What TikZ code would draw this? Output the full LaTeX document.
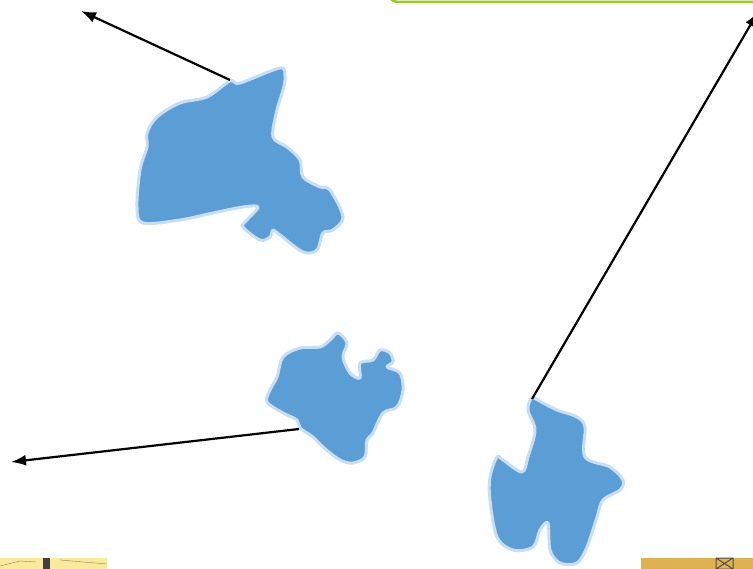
\documentclass[tikz,border=0pt]{standalone}
\usetikzlibrary{arrows.meta}
\definecolor{lakeblue}{RGB}{91,157,213}
\definecolor{lakerim}{RGB}{200,222,242}
\definecolor{boxgreen}{RGB}{160,200,40}
\definecolor{mapyellow}{RGB}{250,235,155}
\definecolor{mapgold}{RGB}{222,178,82}
\begin{document}
\begin{tikzpicture}[x=1pt, y=-1pt,
    lake/.style={fill=lakeblue, draw=lakerim, line width=3pt, line join=round},
    pointer/.style={line width=2.2pt, -{Latex[length=15pt, width=11pt]}}]
    \useasboundingbox (0,0) rectangle (753,569);
    % green box, cut off at the top
    \draw[boxgreen, line width=2.5pt, fill=white, rounded corners=14pt] (385,-40) rectangle (800,2);
    % map strips at the bottom
    \fill[mapyellow] (0,558) rectangle (107,569);
    \fill[black!75] (43,558) rectangle (50,569);
    \draw[black!50, thin] (0,566) -- (20,561) -- (36,562) (60,560) -- (107,564);
    \fill[mapgold] (641,558) rectangle (753,569);
    \draw[black!70, line width=1pt] (716,558) rectangle (733,569) (716,558) -- (733,569) (733,558) -- (716,569);
    % lakes
    \draw[lake] plot[smooth cycle, tension=0.55] coordinates {
        (230,81) (240,83) (280,68) (285,77) (283,90) (277,110) (273,137) (287,147)
        (300,160) (303,177) (320,187) (330,190) (343,217) (333,230) (323,233) (317,250)
        (303,252) (280,235) (273,230) (270,237) (260,240) (243,227) (247,220) (258,207)
        (243,207) (213,213) (180,220) (143,223) (137,207) (140,170) (147,147) (147,133)
        (157,117) (180,103) (207,97)};
    \draw[lake] plot[smooth cycle, tension=0.55] coordinates {
        (300,428) (297,420) (283,413) (267,402) (270,390) (277,377) (283,357) (300,348)
        (320,347) (330,340) (338,333) (347,343) (343,357) (350,373) (360,378) (360,363)
        (373,360) (380,350) (390,353) (393,362) (387,367) (400,373) (403,390) (397,407)
        (383,413) (373,433) (367,440) (365,457) (353,463) (340,460) (323,447) (313,437)};
    \draw[lake] plot[smooth cycle, tension=0.55] coordinates {
        (532,398) (543,403) (557,410) (577,417) (585,427) (585,457) (610,467) (623,480)
        (620,490) (603,500) (597,517) (587,547) (577,563) (560,563) (550,550) (548,523)
        (540,530) (533,547) (513,550) (497,537) (490,500) (490,477) (497,457) (503,460)
        (522,472) (528,457) (535,430) (528,410)};
    % pointers
    \coordinate (lakeA) at (230,80); \coordinate (tipA) at (81,11);
    \coordinate (lakeB) at (299,429); \coordinate (tipB) at (11,462);
    \coordinate (lakeC) at (532,399); \coordinate (tipC) at (758,12);
    \draw[pointer] (lakeA) -- (tipA);
    \draw[pointer] (lakeB) -- (tipB);
    \draw[pointer] (lakeC) -- (tipC);
\end{tikzpicture}
\end{document}
